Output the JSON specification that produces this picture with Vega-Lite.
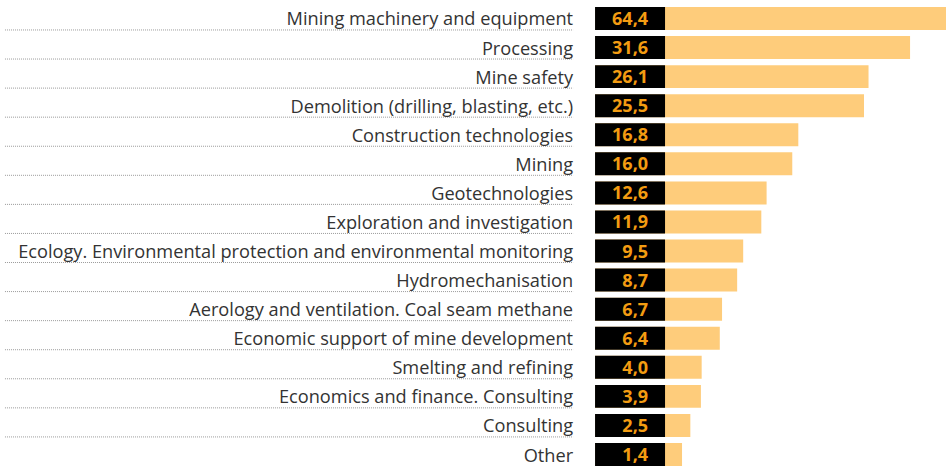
{
  "$schema": "https://vega.github.io/schema/vega-lite/v6.json",
  "width": 946,
  "height": 459,
  "autosize": "none",
  "padding": {"left": 0, "top": 7, "right": 0, "bottom": 0},
  "background": "white",
  "config": {"view": {"stroke": null}},
  "data": {
    "values": [
      {"category": "Mining machinery and equipment", "value": 64.4, "label": "64,4"},
      {"category": "Processing", "value": 31.6, "label": "31,6"},
      {"category": "Mine safety", "value": 26.1, "label": "26,1"},
      {"category": "Demolition (drilling, blasting, etc.)", "value": 25.5, "label": "25,5"},
      {"category": "Construction technologies", "value": 16.8, "label": "16,8"},
      {"category": "Mining", "value": 16.0, "label": "16,0"},
      {"category": "Geotechnologies", "value": 12.6, "label": "12,6"},
      {"category": "Exploration and investigation", "value": 11.9, "label": "11,9"},
      {"category": "Ecology. Environmental protection and environmental monitoring", "value": 9.5, "label": "9,5"},
      {"category": "Hydromechanisation", "value": 8.7, "label": "8,7"},
      {"category": "Aerology and ventilation. Coal seam methane", "value": 6.7, "label": "6,7"},
      {"category": "Economic support of mine development", "value": 6.4, "label": "6,4"},
      {"category": "Smelting and refining", "value": 4.0, "label": "4,0"},
      {"category": "Economics and finance. Consulting", "value": 3.9, "label": "3,9"},
      {"category": "Consulting", "value": 2.5, "label": "2,5"},
      {"category": "Other", "value": 1.4, "label": "1,4"}
    ]
  },
  "encoding": {
    "y": {"field": "category", "type": "nominal", "sort": null, "axis": null,
          "scale": {"paddingInner": 0.21, "paddingOuter": 0}}
  },
  "layer": [
    {
      "mark": {"type": "bar", "color": "#FECC7B"},
      "encoding": {
        "x": {"field": "value", "type": "quantitative", "axis": null,
              "scale": {"domain": [-88.93, 36.36], "clamp": true, "nice": false, "zero": false}},
        "x2": {"datum": -10.12}
      }
    },
    {
      "mark": {"type": "bar", "color": "#000000"},
      "encoding": {
        "x": {"datum": -10.12},
        "x2": {"datum": -0.85}
      }
    },
    {
      "mark": {"type": "text", "align": "right", "baseline": "alphabetic", "dy": 6.5,
               "font": "Open Sans", "fontWeight": "bold", "fontSize": 18, "color": "#F39C12"},
      "encoding": {
        "x": {"datum": -3.1},
        "text": {"field": "label"}
      }
    },
    {
      "transform": [{"filter": "datum.category !== 'Other'"}],
      "mark": {"type": "rule", "color": "#9a9a9a", "strokeDash": [1, 1], "strokeWidth": 1},
      "encoding": {
        "y": {"field": "category", "type": "nominal", "sort": null, "bandPosition": 1},
        "x": {"datum": -88.27},
        "x2": {"datum": -13.03}
      }
    },
    {
      "mark": {"type": "text", "align": "right", "baseline": "alphabetic", "dy": 7,
               "font": "Open Sans", "fontSize": 18.2, "color": "#333333"},
      "encoding": {
        "x": {"datum": -13.03},
        "text": {"field": "category"}
      }
    }
  ]
}
